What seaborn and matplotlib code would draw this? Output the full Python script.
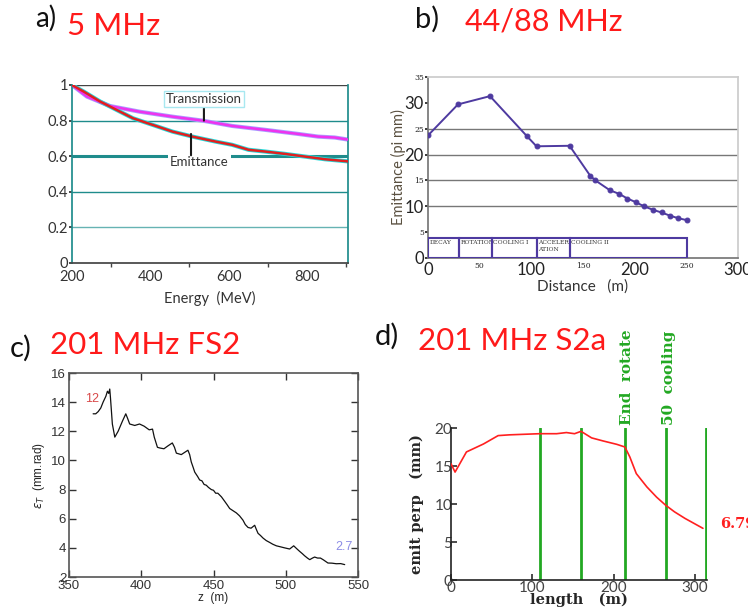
import numpy as np
import pandas as pd
import matplotlib
matplotlib.use('Agg')
import matplotlib.pyplot as plt
import seaborn as sns
from matplotlib.patches import Rectangle

# a) 5 MHz: transmission and emittance vs energy
energy_tr = [200, 238, 297, 373, 457, 533, 609, 694, 778, 829, 871, 909]
transmission = [1.0, 0.935, 0.882, 0.85, 0.822, 0.80, 0.77, 0.748, 0.725, 0.71, 0.705, 0.692]
energy_em = [200, 230, 272, 314, 356, 406, 457, 508, 567, 609, 651, 694, 744, 795, 846, 909]
emittance_a = [1.0, 0.963, 0.907, 0.86, 0.813, 0.776, 0.738, 0.71, 0.682, 0.664, 0.636, 0.626, 0.613, 0.598, 0.583, 0.57]

# b) 44/88 MHz: emittance vs distance
dist_b = [0, 29, 60, 96, 105, 137, 157, 162, 176, 185, 193, 201, 209, 218, 226, 234, 242, 251]
emit_b = [23.7, 29.7, 31.3, 23.5, 21.6, 21.7, 15.9, 15.0, 13.1, 12.4, 11.5, 10.8, 10.0, 9.3, 8.8, 8.2, 7.7, 7.3]
section_names = ['DECAY', 'ROTATION', 'COOLING I', 'ACCELER\nATION', 'COOLING II']
section_edges = [0, 30, 62, 105, 137, 251]

# c) 201 MHz FS2: transverse emittance vs z
z_c = [366.7, 368.5, 370.2, 372, 373.6, 375.5, 376.6, 377.5, 378.2, 378.7, 380, 381.7, 384, 387,
       389.3, 390.5, 392, 395.5, 398.8, 402, 405.5, 407.8, 409, 411.2, 413, 415.7, 418.5, 421.5,
       423, 424.3, 427.7, 430, 432.3, 433.5, 434.6, 436, 437, 439, 440.4, 442, 443.5, 445, 446.5,
       448.5, 450, 451.5, 453, 455.5, 457.7, 459.5, 461.2, 463.5, 465.8, 468, 470.4, 472, 473.9,
       476, 478.5, 479.5, 480.8, 482.5, 484.3, 486.5, 488.9, 491, 493.5, 496, 499.2, 502.7, 505.5,
       507.5, 509.6, 511.5, 513, 515, 516.6, 518.5, 520, 522, 524, 526, 529.2, 532, 535, 538, 540.8]
eps_c = [13.2, 13.2, 13.35, 13.6, 14.0, 14.4, 14.75, 14.6, 14.9, 14.3, 12.5, 11.6, 12.0, 12.7,
         13.2, 12.9, 12.5, 12.4, 12.5, 12.35, 12.1, 12.15, 11.6, 10.9, 10.85, 10.8, 11.0, 11.2,
         10.9, 10.5, 10.4, 10.55, 10.7, 10.4, 9.9, 9.5, 9.2, 8.9, 8.66, 8.6, 8.35, 8.3, 8.15,
         8.0, 7.95, 7.75, 7.75, 7.5, 7.2, 6.95, 6.7, 6.55, 6.4, 6.2, 5.9, 5.6, 5.4,
         5.35, 5.55, 5.3, 5.0, 4.85, 4.67, 4.5, 4.37, 4.25, 4.14, 4.08, 4.0, 3.92, 4.14,
         3.95, 3.76, 3.6, 3.46, 3.3, 3.19, 3.3, 3.37, 3.3, 3.3, 3.18, 2.96, 2.95, 2.91, 2.92, 2.85]

# d) 201 MHz S2a: emit perp vs length
length_d = [0, 5, 19, 40, 58, 72, 109, 130, 142, 152, 160, 173, 187, 204, 214, 220, 228, 241, 253, 264, 275, 288, 310]
emit_d = [15.3, 14.2, 16.85, 17.9, 19.0, 19.1, 19.25, 19.25, 19.4, 19.25, 19.56, 18.7, 18.3, 17.85, 17.5,
          16.2, 14.0, 12.25, 10.9, 9.85, 8.97, 8.1, 6.8]
markers_d = [109, 160, 214, 264, 314]

sns.set_theme(style='white')
plt.rcParams['font.family'] = ['Lato', 'DejaVu Sans']

W, H = 748, 613
fig = plt.figure(figsize=(W / 100, H / 100), dpi=100)


def px_axes(left, top, right, bottom):
    return fig.add_axes([left / W, 1 - bottom / H, (right - left) / W, (bottom - top) / H])


def px_text(x, y, s, **kw):
    fig.text(x / W, 1 - y / H, s, va='baseline', **kw)


red = '#ff1a1a'

# ---------- a) ----------
teal = '#1f8c8c'
ax = px_axes(72, 85, 348, 263)
ax.set_xlim(200, 905)
ax.set_ylim(0, 1)
for yv in [0.2, 0.4, 0.8]:
    ax.axhline(yv, color=teal if yv != 0.2 else '#66b3b3', lw=1, zorder=1)
ax.axhline(0.6, color=teal, lw=2.2, zorder=1)
ax.axhline(1.0, color='#444444', lw=1, zorder=1)
sns.lineplot(x=energy_tr, y=transmission, ax=ax, color='#a8a0ff', lw=3, zorder=2)
sns.lineplot(x=energy_tr, y=transmission, ax=ax, color='#ee33ee', lw=1.8, zorder=3)
sns.lineplot(x=energy_em, y=emittance_a, ax=ax, color='#22dddd', lw=3, zorder=2)
sns.lineplot(x=energy_em, y=emittance_a, ax=ax, color='#e02020', lw=1.8, zorder=3)
for s in ['left', 'right']:
    ax.spines[s].set_color(teal)
ax.spines['bottom'].set_color('#444444')
ax.spines['top'].set_visible(False)
ax.set_yticks([0, 0.2, 0.4, 0.6, 0.8, 1.0])
ax.set_yticklabels(['0', '0.2', '0.4', '0.6', '0.8', '1'])
ax.set_xticks([200, 400, 600, 800])
ax.set_xticks([300, 500, 700, 900], minor=True)
ax.tick_params(axis='both', which='major', length=2, labelsize=10.5, pad=1, colors='#333333')
ax.tick_params(axis='x', which='minor', length=3, bottom=True, color='#444444')
ax.tick_params(axis='x', which='major', pad=3)
ax.tick_params(axis='y', left=True)
ax.set_xlabel('Energy  (MeV)', fontsize=10.5, labelpad=5, color='#333333')
ax.annotate('Transmission', xy=(537, 0.80), xytext=(537, 0.92), ha='center', va='center',
            fontsize=9.5, color='#333333',
            bbox=dict(boxstyle='square,pad=0.15', fc='white', ec='#a8e8f0', lw=1),
            arrowprops=dict(arrowstyle='-', color='k', lw=1.5, shrinkA=0, shrinkB=0), zorder=5)
ax.text(525, 0.57, 'Emittance', ha='center', va='center', fontsize=9.5, color='#333333',
        bbox=dict(boxstyle='square,pad=0.15', fc='white', ec='none'), zorder=5)
ax.annotate('', xy=(504, 0.725), xytext=(504, 0.605),
            arrowprops=dict(arrowstyle='-', color='k', lw=1.5, shrinkA=0, shrinkB=0), zorder=6)

# ---------- b) ----------
purple = '#4e3aa0'
ax = px_axes(428, 77, 738, 258)
ax.set_xlim(0, 300)
ax.set_ylim(0, 35)
for yv in [10, 15, 20, 25]:
    ax.axhline(yv, color='#777777', lw=1, zorder=1)
sns.lineplot(x=dist_b, y=emit_b, ax=ax, color=purple, lw=1.4, marker='o', markersize=3.5,
             markeredgecolor=purple, zorder=3)
for i, name in enumerate(section_names):
    x0, x1 = section_edges[i], section_edges[i + 1]
    ax.add_patch(Rectangle((x0, 0), x1 - x0, 3.8, fill=False, ec=purple, lw=1.5, zorder=4))
    ax.text(x0 + 1.2, 3.5, name, fontsize=4.3, family='DejaVu Serif', va='top', ha='left',
            color='#333333', linespacing=1.6)
for s in ['top', 'right']:
    ax.spines[s].set_color('#cccccc')
for s in ['left', 'bottom']:
    ax.spines[s].set_color('#777777')
ax.set_yticks(range(0, 36, 5))
ax.set_yticklabels([str(v) for v in range(0, 36, 5)])
ax.set_xticks(range(0, 301, 50))
ax.set_xticklabels([str(v) for v in range(0, 301, 50)])
ax.tick_params(axis='both', length=2, pad=1, colors='#222222')
ax.tick_params(axis='y', left=True)
for lab, v in zip(ax.get_yticklabels(), range(0, 36, 5)):
    if v % 10 == 0:
        lab.set_fontsize(12)
    else:
        lab.set_fontsize(5.5)
        lab.set_family('DejaVu Serif')
for lab, v in zip(ax.get_xticklabels(), range(0, 301, 50)):
    if v % 100 == 0:
        lab.set_fontsize(12)
    else:
        lab.set_fontsize(5.5)
        lab.set_family('DejaVu Serif')
ax.set_ylabel('Emittance (pi mm)', fontsize=10.5, color='#5a5040', labelpad=-1)
ax.set_xlabel('Distance   (m)', fontsize=11, color='#333333', labelpad=1)

# ---------- c) ----------
ax = px_axes(69, 373, 358, 577)
ax.set_xlim(350, 550)
ax.set_ylim(2, 16)
sns.lineplot(x=z_c, y=eps_c, ax=ax, color='#111111', lw=0.9, estimator=None, sort=False)
for s in ax.spines.values():
    s.set_color('#555555')
    s.set_linewidth(1.2)
ax.set_xticks(range(350, 551, 50))
ax.set_yticks(range(2, 17, 2))
ax.tick_params(axis='both', direction='in', length=5, width=1, colors='#333333',
               top=True, right=True, bottom=True, left=True, labelsize=9.5, pad=2)
for lab in ax.get_xticklabels() + ax.get_yticklabels():
    lab.set_family('Liberation Sans')
ax.set_ylabel(r'$\epsilon_T$  (mm.rad)', fontsize=8.5, family='Liberation Sans', labelpad=3)
ax.set_xlabel('z  (m)', fontsize=8.5, family='Liberation Sans', labelpad=0)
ax.text(366, 14.2, '12', color='#d84848', fontsize=9, ha='center', va='center',
        family='Liberation Sans')
ax.text(540, 4.05, '2.7', color='#8c8ce6', fontsize=9, ha='center', va='center',
        family='Liberation Sans')

# ---------- d) ----------
green = '#22a822'
ax = px_axes(451, 428, 707, 580)
ax.set_xlim(0, 315)
ax.set_ylim(0, 20)
for xv in markers_d:
    ax.axvline(xv, color=green, lw=2, zorder=2)
sns.lineplot(x=length_d, y=emit_d, ax=ax, color='#ff2020', lw=1.2, zorder=3)
ax.spines['top'].set_visible(False)
ax.spines['right'].set_visible(False)
for s in ['left', 'bottom']:
    ax.spines[s].set_color('#222222')
    ax.spines[s].set_linewidth(1.2)
ax.set_xticks([0, 100, 200, 300])
ax.set_yticks([0, 5, 10, 15, 20])
ax.tick_params(axis='both', direction='in', length=4, colors='#333333', labelsize=11,
               bottom=True, left=True, pad=1)
ax.tick_params(axis='y', pad=-1)
for lab in ax.get_xticklabels() + ax.get_yticklabels():
    lab.set_color('#444444')
serif_bold = dict(family='DejaVu Serif', fontweight='bold')
ax.set_ylabel('emit perp   (mm)', fontsize=10.5, labelpad=8, **serif_bold)
ax.set_xlabel('length   (m)', fontsize=10.5, labelpad=-2, **serif_bold)
ax.text(217, 20.4, 'End  rotate', rotation=90, ha='center', va='bottom', color=green,
        fontsize=11, clip_on=False, **serif_bold)
ax.text(268, 20.4, '50  cooling', rotation=90, ha='center', va='bottom', color=green,
        fontsize=11, clip_on=False, **serif_bold)
ax.text(331, emit_d[-1] + 0.6, '6.79', color='#ff2020', fontsize=10.5, ha='left', va='center',
        clip_on=False, **serif_bold)

# ---------- panel titles ----------
px_text(35, 27, 'a)', fontsize=20, color='#111111')
px_text(67, 35, '5 MHz', fontsize=22.5, color=red)
px_text(415, 28, 'b)', fontsize=21, color='#111111')
px_text(465, 30, '44/88 MHz', fontsize=22, color=red)
px_text(10, 357, 'c)', fontsize=21, color='#111111')
px_text(50, 354, '201 MHz FS2', fontsize=22.5, color=red)
px_text(375, 345, 'd)', fontsize=21, color='#111111')
px_text(418, 350, '201 MHz S2a', fontsize=22.5, color=red)

fig.savefig('out.png', dpi=100)
